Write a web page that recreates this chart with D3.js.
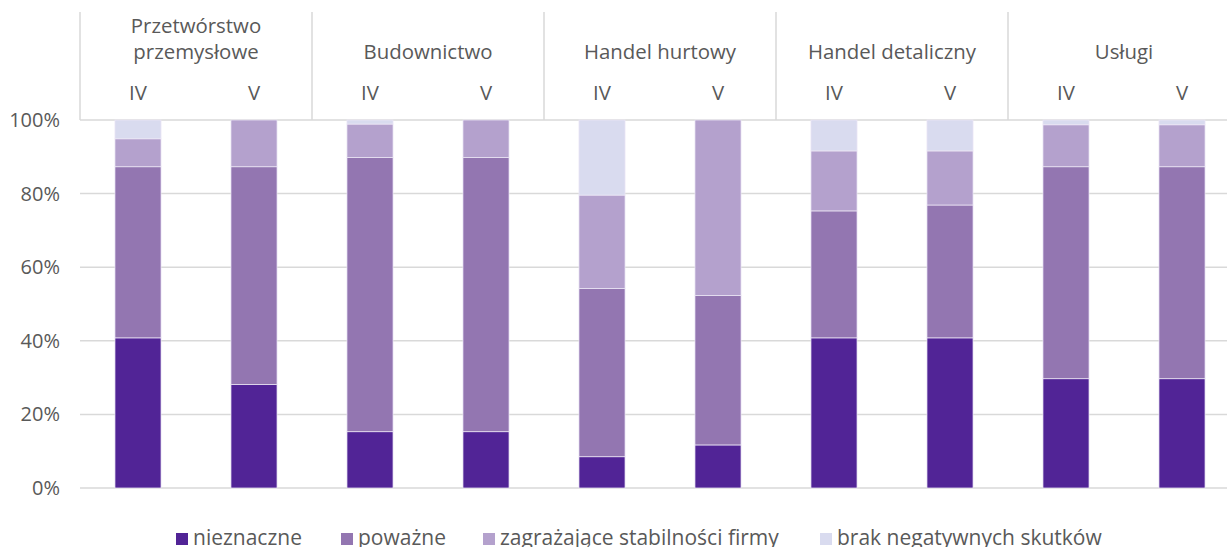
<!DOCTYPE html>
<html>
<head>
<meta charset="utf-8">
<script src="https://cdn.jsdelivr.net/npm/d3@7"></script>
<style>
  body { margin: 0; background: #fff; overflow: hidden; }
  svg { display: block; font-family: "Open Sans", "Noto Sans", sans-serif; }
</style>
</head>
<body>
<div id="chart"></div>
<script>
// data (percent shares, stacked to 100)
const sectors = [["Przetwórstwo", "przemysłowe"], ["Budownictwo"], ["Handel hurtowy"], ["Handel detaliczny"], ["Usługi"]];
const months = ["IV", "V"];
const seriesNames = ["nieznaczne", "poważne", "zagrażające stabilności firmy", "brak negatywnych skutków"];
const seriesColors = ["#512496", "#9376b1", "#b4a1cd", "#d9dbef"];

const nieznaczne  = [40.8, 28.1, 15.3, 15.3, 8.5, 11.7, 40.8, 40.8, 29.7, 29.7];
const powazne     = [46.5, 59.2, 74.5, 74.5, 45.7, 40.6, 34.5, 36.1, 57.6, 57.6];
const zagrazajace = [7.6, 12.7, 9.1, 10.2, 25.4, 47.7, 16.3, 14.7, 11.4, 11.4];
const brak        = [5.1, 0, 1.1, 0, 20.4, 0, 8.4, 8.4, 1.3, 1.3];

const yTicks = [0, 20, 40, 60, 80, 100];

const W = 1227, H = 547;
const margin = {top: 120, left: 80, bottom: 59};
const plotRight = 1240; // last group runs past the picture edge
const plotBottom = H - margin.bottom;

const svg = d3.select("#chart").append("svg")
    .attr("width", W)
    .attr("height", H);

// build rows for stacking
const keys = [];
sectors.forEach((s, i) => months.forEach(m => keys.push(i + "-" + m)));
const rows = keys.map((k, i) => ({
    key: k,
    s0: nieznaczne[i], s1: powazne[i], s2: zagrazajace[i], s3: brak[i]
}));

const x = d3.scaleBand()
    .domain(keys)
    .range([margin.left, plotRight])
    .paddingInner(0.603)
    .paddingOuter(0.3015);

const y = d3.scaleLinear()
    .domain([0, 100])
    .range([plotBottom, margin.top]);

const groupX = d3.scaleBand()
    .domain(d3.range(sectors.length))
    .range([margin.left, plotRight]);

// gridlines
svg.append("g")
    .selectAll("line")
    .data(yTicks)
    .join("line")
    .attr("x1", margin.left)
    .attr("x2", plotRight)
    .attr("y1", d => y(d))
    .attr("y2", d => y(d))
    .attr("stroke", "#d9d9d9")
    .attr("stroke-width", 1.5);

// y axis labels
const yAxis = d3.axisLeft(y)
    .tickValues(yTicks)
    .tickFormat(d => d + "%")
    .tickSize(0)
    .tickPadding(20);

svg.append("g")
    .attr("transform", "translate(" + margin.left + ",0)")
    .call(yAxis)
    .call(g => g.select(".domain").remove())
    .selectAll("text")
    .attr("fill", "#595959")
    .style("font-size", "20px")
    .style("font-family", "'Open Sans', sans-serif");

// header separators
svg.append("g")
    .selectAll("line")
    .data(d3.range(sectors.length))
    .join("line")
    .attr("x1", d => groupX(d))
    .attr("x2", d => groupX(d))
    .attr("y1", 12)
    .attr("y2", margin.top)
    .attr("stroke", "#d9d9d9")
    .attr("stroke-width", 1.5);

// sector names
const head = svg.append("g")
    .attr("fill", "#595959")
    .style("font-size", "20.4px")
    .attr("text-anchor", "middle");

sectors.forEach((lines, i) => {
    const cx = groupX(i) + groupX.bandwidth() / 2;
    const t = head.append("text").attr("x", cx);
    if (lines.length === 2) {
        t.append("tspan").attr("x", cx).attr("y", 33).text(lines[0]);
        t.append("tspan").attr("x", cx).attr("y", 59).text(lines[1]);
    } else {
        t.attr("y", 59).text(lines[0]);
    }
});

// month labels
head.selectAll(".month")
    .data(keys)
    .join("text")
    .attr("class", "month")
    .attr("x", d => x(d) + x.bandwidth() / 2)
    .attr("y", 100)
    .text(d => d.split("-")[1]);

// stacked bars
const stack = d3.stack().keys(["s0", "s1", "s2", "s3"]);
const layers = stack(rows);

svg.append("g")
    .selectAll("g")
    .data(layers)
    .join("g")
    .attr("fill", (d, i) => seriesColors[i])
    .selectAll("rect")
    .data(d => d.filter(p => p[1] - p[0] > 0))
    .join("rect")
    .attr("x", d => x(d.data.key))
    .attr("width", x.bandwidth())
    .attr("y", d => y(d[1]))
    .attr("height", d => y(d[0]) - y(d[1]))
    .attr("stroke", "#ece6f5")
    .attr("stroke-width", 0.75);

// legend
const legendX = [176, 341, 483, 820];
const legend = svg.append("g")
    .selectAll("g")
    .data(seriesNames)
    .join("g")
    .attr("transform", (d, i) => "translate(" + legendX[i] + ",533)");

legend.append("rect")
    .attr("width", 12)
    .attr("height", 12)
    .attr("fill", (d, i) => seriesColors[i]);

legend.append("text")
    .attr("x", 17)
    .attr("y", 12)
    .attr("fill", "#595959")
    .style("font-size", "21px")
    .text(d => d);
</script>
</body>
</html>
